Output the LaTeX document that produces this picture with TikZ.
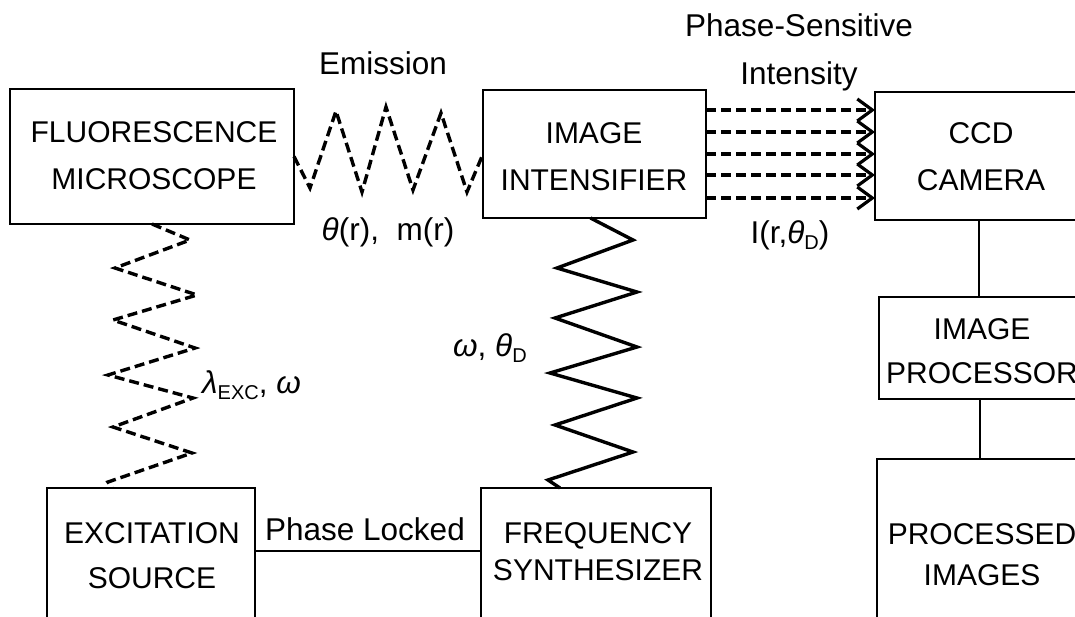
\documentclass[tikz,border=0pt]{standalone}
\usepackage{fontspec}
\setmainfont{Liberation Sans}
\usetikzlibrary{arrows.meta}
\newcommand{\lsub}[1]{\raisebox{-6pt}{\fontsize{20}{22}\selectfont #1}}
\begin{document}
\begin{tikzpicture}[x=1pt,y=-1pt,
  box/.style={draw, line width=2.8pt, rectangle, inner sep=0pt, outer sep=0pt},
  boxtext/.style={anchor=base, font=\fontsize{30}{36}\selectfont, inner sep=0pt},
  lab/.style={anchor=base, font=\fontsize{31.5}{36}\selectfont, inner sep=0pt},
  dz/.style={line width=3.4pt, dash pattern=on 10pt off 5pt, line join=miter},
  sz/.style={line width=3.4pt, line join=miter},
  arr/.style={line width=3.4pt, dash pattern=on 10pt off 5pt, -{Straight Barb[length=15pt,width=22pt,line width=3.2pt]}},
  thinline/.style={line width=2.2pt}]
\useasboundingbox (0,0) rectangle (1075,616);
\clip (0,0) rectangle (1075,616);
% boxes
\node[box, minimum width=284pt, minimum height=135pt] (mic) at (152,156.5) {};
\node[box, minimum width=223pt, minimum height=128pt] (int) at (594.5,154) {};
\node[box, minimum width=208pt, minimum height=128pt] (ccd) at (979,156) {};
\node[box, minimum width=202pt, minimum height=102pt] (proc) at (980,348) {};
\node[box, minimum width=206pt, minimum height=201pt] (img) at (980,559.5) {};
\node[box, minimum width=208pt, minimum height=172pt] (src) at (151,574) {};
\node[box, minimum width=230pt, minimum height=172pt] (syn) at (596,574) {};
% box texts
\node[boxtext] (micA) at (154,142) {FLUORESCENCE};
\node[boxtext] (micB) at (154,189) {MICROSCOPE};
\node[boxtext] (intA) at (594,143) {IMAGE};
\node[boxtext] (intB) at (594,190) {INTENSIFIER};
\node[boxtext] (ccdA) at (981,143) {CCD};
\node[boxtext] (ccdB) at (981,190) {CAMERA};
\node[boxtext] (procA) at (982,339) {IMAGE};
\node[boxtext] (procB) at (982,383) {PROCESSOR};
\node[boxtext] (imgA) at (982,544) {PROCESSED};
\node[boxtext] (imgB) at (982,585) {IMAGES};
\node[boxtext] (srcA) at (152,543) {EXCITATION};
\node[boxtext] (srcB) at (152,588) {SOURCE};
\node[boxtext] (synA) at (598,543) {FREQUENCY};
\node[boxtext] (synB) at (598,580) {SYNTHESIZER};
% labels
\node[lab] (lEm) at (383,74) {Emission};
\node[lab] (lTh) at (388,240) {\textit{θ}(r),\ \ m(r)};
\node[lab] (lPS) at (799,36) {Phase-Sensitive};
\node[lab] (lInt) at (799,84) {Intensity};
\node[lab] (lI) at (790,243) {I(r,\textit{θ}\lsub{D})};
\node[lab] (lPL) at (365,540) {Phase Locked};
\node[lab, anchor=base west] (lOm) at (453,356) {\textit{ω},\ \textit{θ}\lsub{D}};
\node[lab, anchor=base west] (lLam) at (202,393) {\textit{λ}\lsub{EXC},\ \textit{ω}};
% emission zigzag (dashed)
\draw[dz] (mic.east) -- (310,188) -- (336,111) -- (362,192) -- (386,107) -- (413,190) -- (441,113) -- (467,192) -- (int.west);
% excitation zigzag (dashed)
\draw[dz] (mic.south) -- (190,240) -- (115,268) -- (197,295) -- (113,320) -- (195,348) -- (108,375) -- (193,398) -- (113,427) -- (192,453) -- (108,482) -- ([xshift=65pt]src.north west);
% reference zigzag (solid)
\draw[sz] ([xshift=-4pt]int.south) -- (633,240) -- (557,268) -- (637,292) -- (555,318) -- (637,347) -- (550,373) -- (637,398) -- (555,425) -- (633,452) -- (548,480) -- ([xshift=-36pt]syn.north);
% phase-sensitive intensity arrows
\foreach \yy in {110,132,154,175,198}
  \draw[arr] (int.east |- 0,\yy) -- (ccd.west |- 0,\yy);
% plain connectors
\draw[thinline] (ccd.south) -- (ccd.south |- proc.north);
\draw[thinline] (proc.south) -- (proc.south |- img.north);
\draw[thinline] (src.east |- 0,551) -- (syn.west |- 0,551);
\end{tikzpicture}
\end{document}
